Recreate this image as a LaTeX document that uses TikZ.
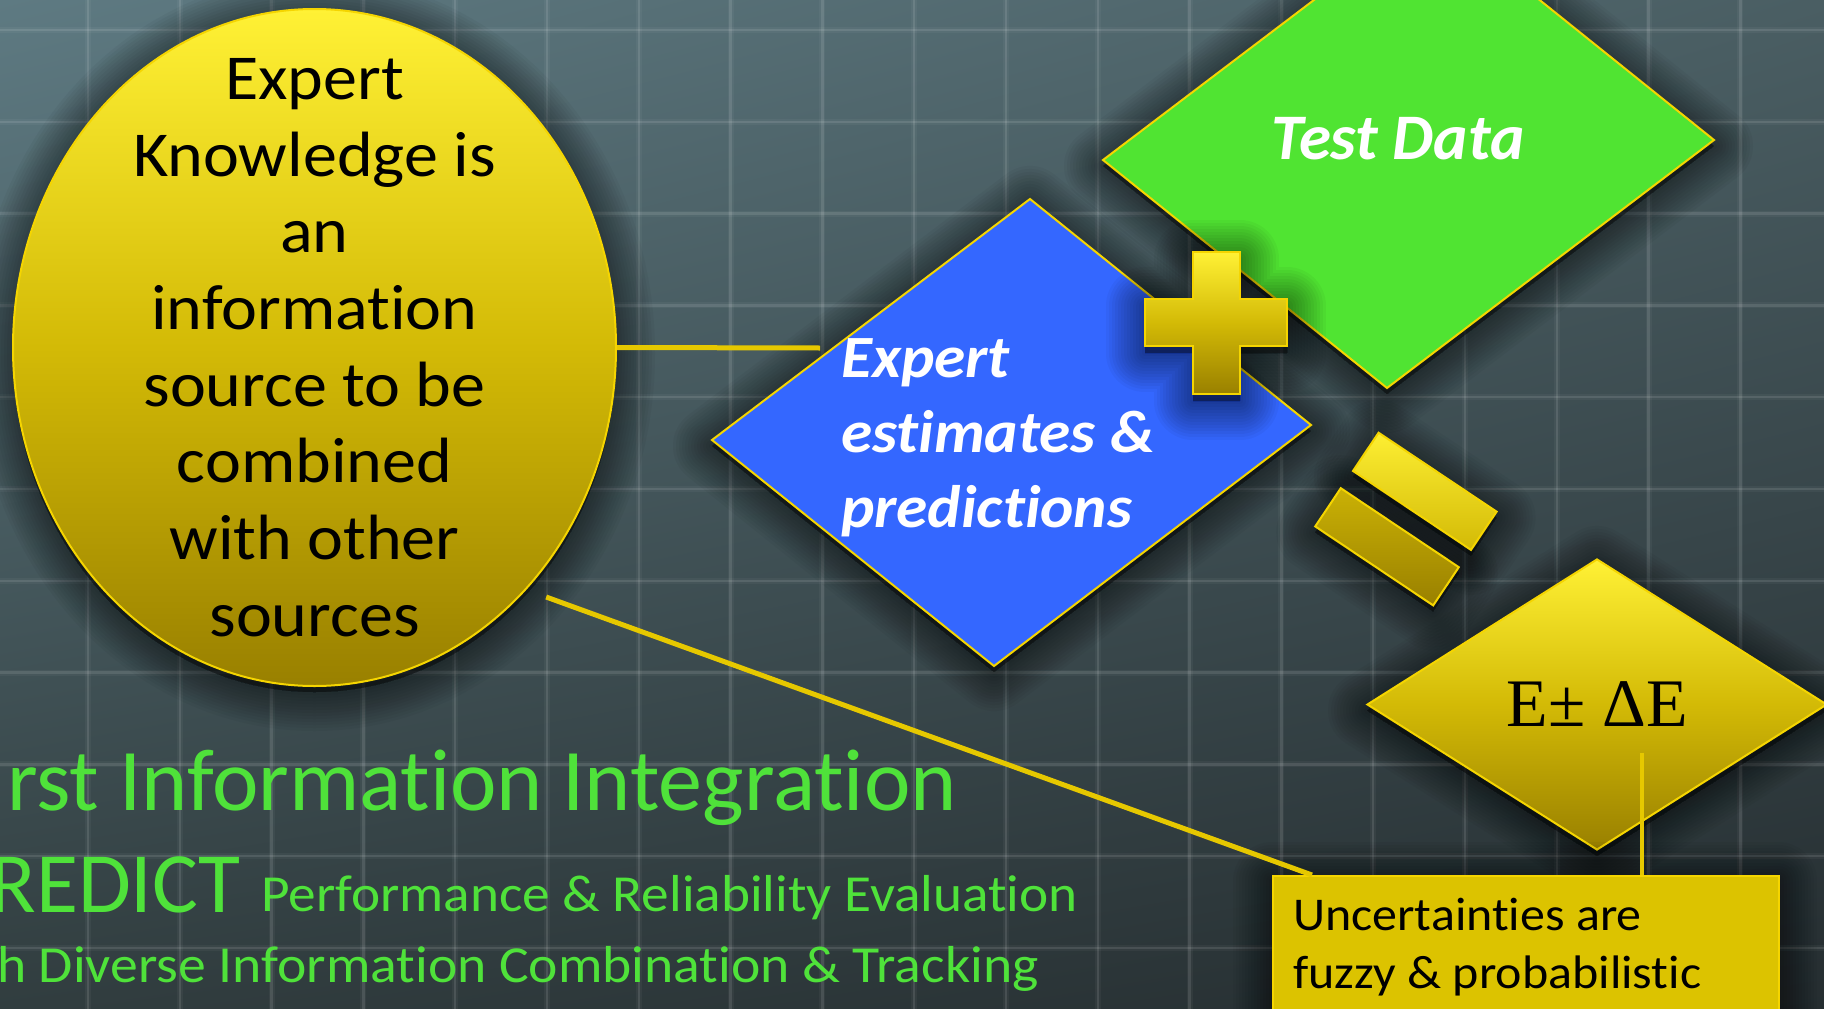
\documentclass[tikz,border=0pt]{standalone}
\usepackage{fontspec}
\setmainfont{Carlito}[Ligatures=NoCommon]
\newfontfamily\wideA{Carlito}[FakeStretch=1.063, Ligatures=NoCommon]
\newfontfamily\wideB{Carlito}[FakeStretch=1.055, Ligatures=NoCommon]
\newfontfamily\wideC{Carlito}[FakeStretch=1.07, Ligatures=NoCommon]
\newfontfamily\serifE{Liberation Serif}
\usetikzlibrary{shapes.geometric,shadings}
\definecolor{bgTL}{HTML}{5E7A82}
\definecolor{bgTR}{HTML}{4A5E63}
\definecolor{bgBL}{HTML}{313D3F}
\definecolor{bgBR}{HTML}{252D30}
\definecolor{ylwedge}{HTML}{F5D500}
\definecolor{ylwline}{HTML}{E6C800}
\definecolor{goldA}{HTML}{FFF135}
\definecolor{goldB}{HTML}{D3BA06}
\definecolor{goldC}{HTML}{998000}
\definecolor{grnfill}{HTML}{50E432}
\definecolor{grntext}{HTML}{4FE23A}
\definecolor{blufill}{HTML}{3467FF}
\definecolor{boxfill}{HTML}{DCC300}
\tikzset{
  gridline/.style={white, opacity=0.10, line width=2.5pt},
  gridglow/.style={white, opacity=0.04, line width=6pt},
  goldshade/.style={top color=goldA, bottom color=goldC, middle color=goldB},
  edgeline/.style={draw=ylwedge, line width=2pt},
  connector/.style={draw=ylwline, line width=5pt},
  bigtext/.style={text=grntext, inner sep=0pt},
}
\newcommand\softshadow[2]{\foreach \w in {78,72,...,6}{\fill[black,opacity=0.036,draw=black,line width=\w pt,line join=round,#1] #2;}}
\begin{document}
\begin{tikzpicture}[x=1pt,y=-1pt]
\useasboundingbox (0,0) rectangle (1824,1009);
\begin{scope}
\clip (0,0) rectangle (1824,1009);
% background
\shade[upper left=bgTL, upper right=bgTR, lower left=bgBL, lower right=bgBR] (0,0) rectangle (1824,1009);
\foreach \i in {0,...,19}{
  \draw[gridglow] ({-3.8+91.8*\i},0) -- ++(0,1009);
  \draw[gridline] ({-3.8+91.8*\i},0) -- ++(0,1009);}
\foreach \j in {0,...,11}{
  \draw[gridglow] (0,{30+91.8*\j}) -- ++(1824,0);
  \draw[gridline] (0,{30+91.8*\j}) -- ++(1824,0);}

% ellipse
\softshadow{shift={(0,6)}}{(314.5,347.5) ellipse [x radius=301.5, y radius=338.5]}
\node[ellipse, goldshade, edgeline, minimum width=603pt, minimum height=677pt, inner sep=0pt] (ell) at (314.5,347.5) {};
\node[align=center, inner sep=0pt, font=\wideA\fontsize{64}{76.7}\selectfont] (elltext) at (ell.center) {Expert\\Knowledge is\\an\\information\\source to be\\combined\\with other\\sources};

% green diamond
\softshadow{shift={(0,6)}}{(1430,-88) -- (1714,140) -- (1387,388) -- (1103,160) -- cycle}
\filldraw[fill=grnfill, edgeline] (1430,-88) -- (1714,140) -- (1387,388) -- (1103,160) -- cycle;
\node[anchor=base, inner sep=0pt, text=white, font=\bfseries\itshape\fontsize{65}{78}\selectfont] (testdata) at (1398,159) {Test Data};

% blue diamond
\softshadow{shift={(0,6)}}{(1030,199) -- (1311,425) -- (994,666) -- (712,440) -- cycle}
\filldraw[fill=blufill, edgeline] (1030,199) -- (1311,425) -- (994,666) -- (712,440) -- cycle;
\node[anchor=base west, align=left, inner sep=0pt, text=white, font=\wideB\bfseries\itshape\fontsize{60}{75}\selectfont] (bluetext) at (841,527) {Expert\\estimates \&\\predictions};

% plus sign
\softshadow{shift={(0,7)}}{(1193,252) -- (1240,252) -- (1240,299) -- (1287,299) -- (1287,346) -- (1240,346) -- (1240,394) -- (1193,394) -- (1193,346) -- (1145,346) -- (1145,299) -- (1193,299) -- cycle}
\shadedraw[goldshade, edgeline] (1193,252) -- (1240,252) -- (1240,299) -- (1287,299) -- (1287,346) -- (1240,346) -- (1240,394) -- (1193,394) -- (1193,346) -- (1145,346) -- (1145,299) -- (1193,299) -- cycle;

% equals sign
\softshadow{shift={(1424.8,497.3)},rotate=-33.8}{(-71,-23) rectangle (71,23)}
\softshadow{shift={(1387,552.8)},rotate=-33.8}{(-71,-23) rectangle (71,23)}
\shadedraw[top color=goldA!95!goldB, bottom color=goldB, edgeline, shift={(1424.8,491.3)}, rotate=-33.8] (-71,-23) rectangle (71,23);
\shadedraw[top color=goldB!85!goldC, bottom color=goldC, edgeline, shift={(1387,546.8)}, rotate=-33.8] (-71,-23) rectangle (71,23);

% E diamond
\softshadow{shift={(0,6)}}{(1597,559) -- (1827,704.5) -- (1597,850) -- (1367,704.5) -- cycle}
\node[diamond, goldshade, edgeline, minimum width=460pt, minimum height=291pt, inner sep=0pt, font=\serifE\fontsize{68}{80}\selectfont] (ediam) at (1597,704.5) {E± ΔE};

% uncertainty box
\softshadow{shift={(0,6)}}{(1272,875) rectangle (1778,1100)}
\node[anchor=north west, fill=boxfill, edgeline, minimum width=506pt, minimum height=225pt, inner sep=0pt] (box) at (1272,875) {};
\node[anchor=base west, align=left, inner sep=0pt, font=\wideA\fontsize{47}{58}\selectfont] (boxtext) at (1293,988) {Uncertainties are\\fuzzy \& probabilistic};

% connectors
\coordinate (c1) at (820,348);
\draw[connector] (ell.east) -- (c1);
\draw[connector] ([shift={(13,15)}]ell.-47.6) -- ([xshift=40pt]box.north west);
\coordinate (estem) at ([shift={(45,48)}]ediam.center);
\draw[connector, line width=4.5pt] (estem) -- (estem |- box.north);

% title texts
\node[bigtext, anchor=base east, font=\fontsize{88}{100}\selectfont] (t1) at (957,810) {rst Information Integration};
\node[bigtext, anchor=base east, font=\fontsize{86}{100}\selectfont] (t2a) at (241,912) {REDICT};
\node[bigtext, anchor=base west, font=\wideA\fontsize{52}{60}\selectfont] (t2b) at (261,911) {Performance \& Reliability Evaluation};
\node[bigtext, anchor=base east, font=\wideC\fontsize{52}{60}\selectfont] (t3) at (1039,982) {h Diverse Information Combination \& Tracking};
\end{scope}
\end{tikzpicture}
\end{document}
